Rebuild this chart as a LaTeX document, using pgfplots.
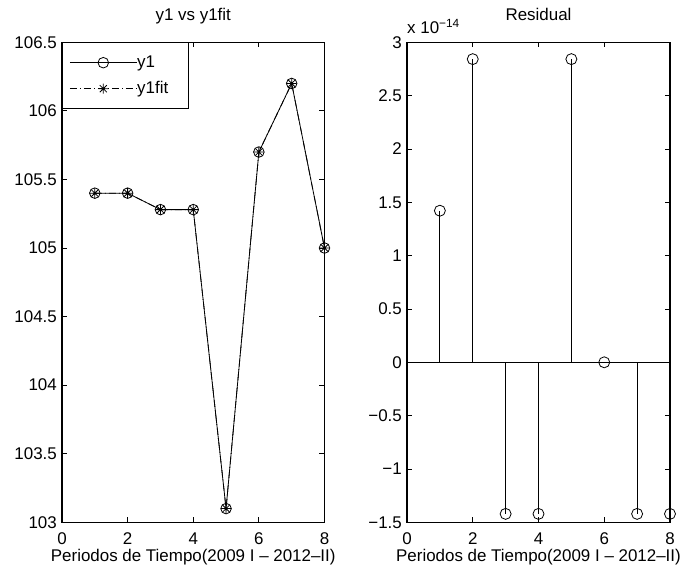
\documentclass[border=0pt]{standalone}
\usepackage{fontspec}
\setmainfont{Liberation Sans}
\usepackage{pgfplots}
\pgfplotsset{compat=1.18}
\newcommand{\fs}{\fontsize{17}{20}\selectfont}
\pgfdeclareplotmark{mstar}{%
  \pgfpathmoveto{\pgfqpoint{0pt}{\pgfplotmarksize}}\pgfpathlineto{\pgfqpoint{0pt}{-\pgfplotmarksize}}%
  \pgfpathmoveto{\pgfqpoint{\pgfplotmarksize}{0pt}}\pgfpathlineto{\pgfqpoint{-\pgfplotmarksize}{0pt}}%
  \pgfpathmoveto{\pgfqpoint{.7071\pgfplotmarksize}{.7071\pgfplotmarksize}}\pgfpathlineto{\pgfqpoint{-.7071\pgfplotmarksize}{-.7071\pgfplotmarksize}}%
  \pgfpathmoveto{\pgfqpoint{-.7071\pgfplotmarksize}{.7071\pgfplotmarksize}}\pgfpathlineto{\pgfqpoint{.7071\pgfplotmarksize}{-.7071\pgfplotmarksize}}%
  \pgfusepathqstroke}
\begin{document}
\begin{tikzpicture}
\path[use as bounding box] (0,0) rectangle (698bp,571bp);
\pgfplotsset{mystyle/.style={
  scale only axis, width=262.5bp, height=480bp, clip=false,
  axis line style={line width=1.1bp},
  tick align=inside, major tick length=5bp, tick style={black,line width=0.8bp},
  ticklabel style={font=\fs},
  xticklabel style={anchor=north, inner sep=0pt}, xticklabel shift=10.5bp,
  yticklabel style={anchor=east, inner sep=0pt}, yticklabel shift=5bp,
  title style={font=\fs, at={(axis description cs:0.5,1)}, anchor=base, yshift=16bp, inner sep=0pt},
  xlabel style={font=\fs, at={(axis description cs:0.5,0)}, anchor=base, yshift=-39bp, inner sep=0pt},
  xmin=0, xmax=8, xtick={0,2,4,6,8}, xticklabels={0,2,4,6,8},
  every axis plot/.append style={line width=0.8bp, black},
}}
\begin{axis}[mystyle, at={(62bp,48.7bp)}, anchor=south west,
  ymin=103, ymax=106.5, ytick={103,103.5,104,104.5,105,105.5,106,106.5},
  yticklabels={103,103.5,104,104.5,105,105.5,106,106.5},
  title={y1 vs y1fit},
  xlabel={Periodos de Tiempo(2009 I – 2012–II)},
  legend style={at={(axis description cs:0,1)}, anchor=north west, draw=black, line width=0.8bp,
    fill=white, font=\fs, inner xsep=7bp, inner ysep=12bp, row sep=10bp,
    nodes={inner sep=0pt, text width=44bp, text height=12.5bp, text depth=3.5bp},
    /tikz/every even column/.append style={column sep=3bp}},
  legend cell align=left,
  legend image code/.code={\draw[mark repeat=2,mark phase=2,#1] plot coordinates {(0bp,0bp) (33.5bp,0bp) (67bp,0bp)};},
]
\addplot[mark=o, mark size=5.3bp] coordinates {
(1,105.40) (2,105.40) (3,105.28) (4,105.28) (5,103.10) (6,105.70) (7,106.20) (8,105.00)};
\addlegendentry{y1}
\addplot[mark=mstar, mark size=5bp, dash pattern=on 7bp off 3bp on 1bp off 3bp, mark options={solid}] coordinates {
(1,105.40) (2,105.40) (3,105.28) (4,105.28) (5,103.10) (6,105.70) (7,106.20) (8,105.00)};
\addlegendentry{y1fit}
\end{axis}
\begin{axis}[mystyle, at={(407bp,48.7bp)}, anchor=south west, width=263bp,
  ymin=-1.5, ymax=3, ytick={-1.5,-1,-0.5,0,0.5,1,1.5,2,2.5,3},
  yticklabels={−1.5,−1,−0.5,0,0.5,1,1.5,2,2.5,3},
  title={Residual},
  xlabel={Periodos de Tiempo(2009 I – 2012–II)},
]
\addplot[black, line width=0.8bp] coordinates {(0,0) (8,0)};
\addplot[ycomb, mark=o, mark size=5.5bp] coordinates {
(1,1.4211) (2,2.8422) (3,-1.4211) (4,-1.4211) (5,2.8422) (6,0) (7,-1.4211) (8,-1.4211)};
\node[anchor=base west, yshift=9bp, font=\fs, inner sep=0pt] at (rel axis cs:0,1) {x 10\textsuperscript{−14}};
\end{axis}
\end{tikzpicture}
\end{document}
